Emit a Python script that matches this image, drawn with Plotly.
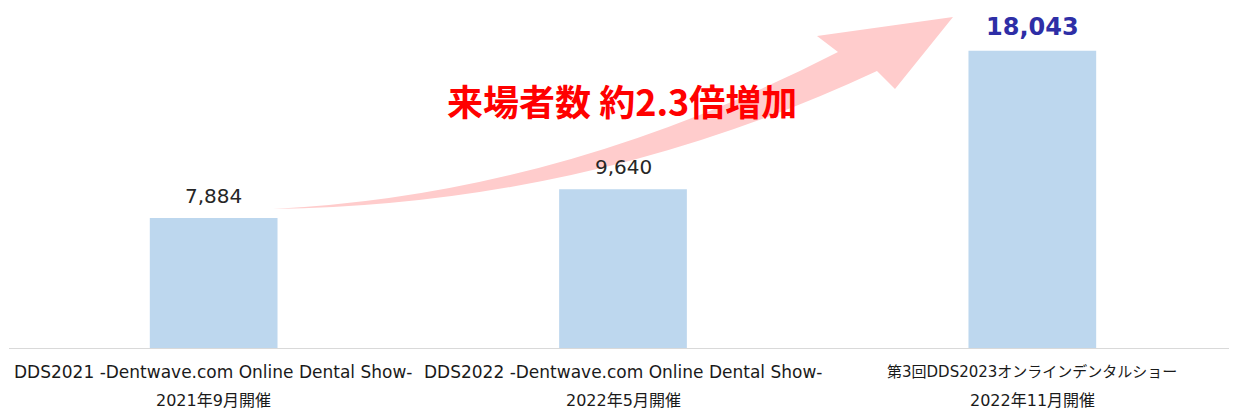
import plotly.graph_objects as go

# ---- data ----
categories = ["DDS2021", "DDS2022", "DDS2023"]
visitors = [7884, 9640, 18043]
label_line1 = [
    "DDS2021 -Dentwave.com Online Dental Show-",
    "DDS2022 -Dentwave.com Online Dental Show-",
    "第3回DDS2023オンラインデンタルショー",
]
label_line2 = ["2021年9月開催", "2022年5月開催", "2022年11月開催"]
value_text = ["7,884", "9,640", "18,043"]
headline = "来場者数 約2.3倍増加"

# page has an 8px body margin; design in page pixels, convert to figure pixels
OFF = 8
W, H = 1237 - OFF, 414 - OFF
ML, MR, MT, MB = 1, 0, 0, 66
PW, PH = W - ML - MR, H - MT - MB  # plot area: 1228 x 340

FONT = "DejaVu Sans, Noto Sans CJK JP, sans-serif"

fig = go.Figure()
fig.add_trace(go.Bar(
    x=categories, y=visitors,
    marker=dict(color="#BDD7EE", line=dict(width=0)),
    width=0.312, hoverinfo="skip",
))

for i, (c, v, t) in enumerate(zip(categories, visitors, value_text)):
    last = i == len(categories) - 1
    fig.add_annotation(
        x=c, y=v, xref="x", yref="y", text=f"<b>{t}</b>" if last else t,
        showarrow=False, xanchor="center", yanchor="middle",
        yshift=24 if last else 22,
        font=dict(family=FONT, size=24 if last else 20,
                  color="#2E2EA6" if last else "#262626"),
    )
    fig.add_annotation(
        x=c, y=0, xref="x", yref="paper", text=label_line1[i],
        showarrow=False, xanchor="center", yanchor="middle", yshift=-24,
        font=dict(family=FONT, size=15 if last else 17, color="#1a1a1a"),
    )
    fig.add_annotation(
        x=c, y=0, xref="x", yref="paper", text=label_line2[i],
        showarrow=False, xanchor="center", yanchor="middle", yshift=-52,
        font=dict(family=FONT, size=16, color="#1a1a1a"),
    )

# decorative curved arrow (page-pixel coordinates converted to paper)
def p(x, y):
    fx, fy = x - OFF, y - OFF
    return f"{(fx - ML) / PW:.5f},{(MT + PH - fy) / PH:.5f}"

path = (
    f"M {p(273, 209)} Q {p(560, 195)} {p(838, 52)} "
    f"L {p(817, 36)} L {p(953, 17)} L {p(895, 89)} L {p(877, 71)} "
    f"Q {p(590, 205)} {p(273, 209)} Z"
)
fig.add_shape(type="path", path=path, xref="paper", yref="paper",
              fillcolor="#FFCCCC", line=dict(width=0), layer="below")

hx, hy = p(622, 100).split(",")
fig.add_annotation(
    x=float(hx), y=float(hy), xref="paper", yref="paper",
    text=f"<b>{headline}</b>", showarrow=False,
    xanchor="center", yanchor="middle",
    font=dict(family="Noto Sans CJK JP, sans-serif", size=36, color="#FF0000"),
)

fig.update_layout(
    width=W, height=H,
    margin=dict(l=ML, r=MR, t=MT, b=MB),
    paper_bgcolor="white", plot_bgcolor="white",
    showlegend=False,
    xaxis=dict(showticklabels=False, ticks="", showline=True,
               linecolor="#D9D9D9", linewidth=1, showgrid=False, zeroline=False),
    yaxis=dict(range=[0, 20631], visible=False, showgrid=False, zeroline=False),
)

fig.write_html("out.html")
